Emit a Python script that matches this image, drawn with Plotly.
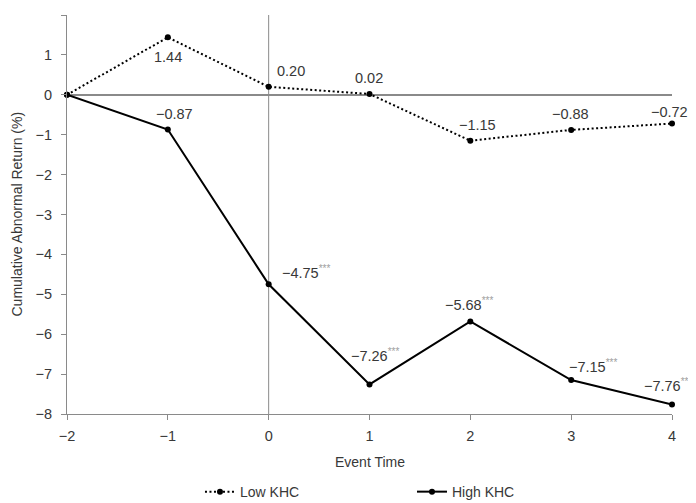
import plotly.graph_objects as go

event_time = [-2, -1, 0, 1, 2, 3, 4]
low_khc = [0.0, 1.44, 0.20, 0.02, -1.15, -0.88, -0.72]
high_khc = [0.0, -0.87, -4.75, -7.26, -5.68, -7.15, -7.76]
low_labels = ["", "1.44", "0.20", "0.02", "−1.15", "−0.88", "−0.72"]
high_labels = ["", "−0.87", "−4.75", "−7.26", "−5.68", "−7.15", "−7.76"]
high_stars = ["", "", "***", "***", "***", "***", "***"]

FONT = "Liberation Sans"
TXT = "#383838"
AX = "#8a8a8a"

fig = go.Figure()
fig.add_trace(go.Scatter(
    x=event_time, y=low_khc, name="Low KHC", mode="lines+markers",
    line=dict(color="black", width=2, dash="2px,2.5px"),
    marker=dict(color="black", size=6), cliponaxis=False))
fig.add_trace(go.Scatter(
    x=event_time, y=high_khc, name="High KHC", mode="lines+markers",
    line=dict(color="black", width=2),
    marker=dict(color="black", size=6), cliponaxis=False))

# label placement (anchor, xshift, yshift) in px
low_place = [None, ("center", 0, -20), ("center", 22, 16), ("center", -1, 16),
             ("center", 7, 16), ("center", -1, 16), ("center", -3, 12)]
high_place = [None, ("center", 7, 16), ("left", 11, 12), ("left", -21, 29),
              ("left", -27, 17), ("left", -4, 14), ("left", -30, 19)]

for i, (x, y, t) in enumerate(zip(event_time, low_khc, low_labels)):
    if not t:
        continue
    a, dx, dy = low_place[i]
    fig.add_annotation(x=x, y=y, xref="x", yref="y", text=t, showarrow=False,
                       xanchor=a, xshift=dx, yshift=dy,
                       font=dict(size=14.5, color=TXT, family=FONT))

for i, (x, y, t, s) in enumerate(zip(event_time, high_khc, high_labels, high_stars)):
    if not t:
        continue
    a, dx, dy = high_place[i]
    txt = t + (f"<sup><span style='color:#a0a0a0;font-size:10px'>{s}</span></sup>" if s else "")
    fig.add_annotation(x=x, y=y, xref="x", yref="y", text=txt, showarrow=False,
                       xanchor=a, xshift=dx, yshift=dy,
                       font=dict(size=14.5, color=TXT, family=FONT))

fig.add_shape(type="line", x0=0, x1=0, y0=-8, y1=2, xref="x", yref="y",
              line=dict(color=AX, width=1), layer="below")

# axis titles
fig.add_annotation(x=0, y=0.5, xref="paper", yref="paper", text="Cumulative Abnormal Return (%)",
                   showarrow=False, textangle=-90, xanchor="center", yanchor="middle",
                   xshift=-51, font=dict(size=14, color=TXT, family=FONT))
fig.add_annotation(x=0.5, y=0, xref="paper", yref="paper", text="Event Time",
                   showarrow=False, xanchor="center", yanchor="middle",
                   yshift=-48, font=dict(size=14, color=TXT, family=FONT))

fig.update_layout(
    width=688, height=495,
    margin=dict(l=59, r=24, t=7, b=89, autoexpand=False),
    paper_bgcolor="white", plot_bgcolor="white",
    font=dict(family=FONT, color=TXT, size=14),
    showlegend=True,
    legend=dict(orientation="h", x=0.2198, y=-0.1555, yref="paper",
                xanchor="left", yanchor="top",
                font=dict(size=14, color=TXT, family=FONT), entrywidth=167,
                itemwidth=30, bgcolor="rgba(0,0,0,0)"),
    xaxis=dict(range=[-2, 4], tickmode="array", tickvals=event_time,
               showgrid=False, zeroline=False, showline=True, linecolor=AX, linewidth=1,
               ticks="outside", ticklen=5, tickcolor=AX, ticklabelstandoff=4,
               tickfont=dict(size=14.5, color=TXT)),
    yaxis=dict(range=[-8, 2], dtick=1, showgrid=False,
               zeroline=True, zerolinecolor=AX, zerolinewidth=2,
               showline=True, linecolor=AX, linewidth=1,
               ticks="outside", ticklen=5, tickcolor=AX, ticklabelstandoff=6,
               tickfont=dict(size=14.5, color=TXT)),
)

fig.write_html("out.html")
